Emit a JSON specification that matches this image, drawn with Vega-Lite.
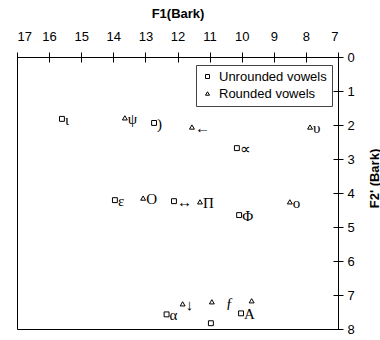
{
  "$schema": "https://vega.github.io/schema/vega-lite/v6.json",
  "width": 321,
  "height": 272,
  "autosize": "none",
  "padding": {"left": 17, "top": 57, "right": 42, "bottom": 11},
  "background": "white",
  "config": {
    "view": {"stroke": "black", "strokeWidth": 1},
    "axis": {
      "labelFont": "Liberation Sans",
      "labelFontSize": 13,
      "labelColor": "black",
      "tickColor": "black",
      "titleFont": "Liberation Sans",
      "titleFontSize": 13,
      "titleFontWeight": "bold",
      "titleColor": "black",
      "domain": false,
      "grid": false,
      "offset": -5,
      "tickSize": 10
    }
  },
  "data": {
    "values": [
      {"F1": 15.6, "F2": 1.82, "type": "Unrounded vowels", "label": "ι"},
      {"F1": 13.64, "F2": 1.79, "type": "Rounded vowels", "label": "ψ"},
      {"F1": 12.73, "F2": 1.94, "type": "Unrounded vowels", "label": ")"},
      {"F1": 11.55, "F2": 2.06, "type": "Rounded vowels", "label": "←"},
      {"F1": 7.87, "F2": 2.06, "type": "Rounded vowels", "label": "υ"},
      {"F1": 10.15, "F2": 2.68, "type": "Unrounded vowels", "label": "∝"},
      {"F1": 13.95, "F2": 4.21, "type": "Unrounded vowels", "label": "ε"},
      {"F1": 13.07, "F2": 4.15, "type": "Rounded vowels", "label": "O"},
      {"F1": 12.11, "F2": 4.24, "type": "Unrounded vowels", "label": "↔"},
      {"F1": 11.3, "F2": 4.26, "type": "Rounded vowels", "label": "Π"},
      {"F1": 8.5, "F2": 4.26, "type": "Rounded vowels", "label": "ο"},
      {"F1": 10.08, "F2": 4.65, "type": "Unrounded vowels", "label": "Φ"},
      {"F1": 11.84, "F2": 7.26, "type": "Rounded vowels", "label": "↓"},
      {"F1": 12.34, "F2": 7.57, "type": "Unrounded vowels", "label": "α"},
      {"F1": 10.93, "F2": 7.2, "type": "Rounded vowels", "label": "\u2800ƒ"},
      {"F1": 10.96, "F2": 7.83, "type": "Unrounded vowels", "label": ""},
      {"F1": 9.69, "F2": 7.17, "type": "Rounded vowels", "label": ""},
      {"F1": 10.02, "F2": 7.54, "type": "Unrounded vowels", "label": "A"}
    ]
  },
  "encoding": {
    "x": {
      "field": "F1", "type": "quantitative",
      "scale": {"domain": [7, 17], "reverse": true, "nice": false, "zero": false},
      "axis": {"orient": "top", "title": "F1(Bark)", "values": [7, 8, 9, 10, 11, 12, 13, 14, 15, 16, 17], "labelPadding": 9, "titlePadding": 10}
    },
    "y": {
      "field": "F2", "type": "quantitative",
      "scale": {"domain": [0, 8], "reverse": true, "nice": false, "zero": false},
      "axis": {"orient": "right", "title": "F2' (Bark)", "values": [0, 1, 2, 3, 4, 5, 6, 7, 8], "labelPadding": 4, "titleAngle": 270, "titleX": 41, "titleY": 121, "titleAlign": "center", "titleBaseline": "middle"}
    }
  },
  "layer": [
    {
      "mark": {"type": "point", "filled": false, "stroke": "black", "strokeWidth": 1, "size": 24, "opacity": 1},
      "encoding": {
        "shape": {
          "field": "type", "type": "nominal",
          "scale": {"domain": ["Unrounded vowels", "Rounded vowels"], "range": ["square", "triangle-up"]},
          "legend": {
            "title": null, "orient": "none", "legendX": 179, "legendY": 8,
            "strokeColor": "#444", "padding": 5, "labelFont": "Liberation Sans", "labelFontSize": 13,
            "labelColor": "black", "symbolSize": 16, "symbolStrokeColor": "black", "symbolStrokeWidth": 1,
            "labelOffset": 5, "rowPadding": 3, "fillColor": "white"
          }
        }
      }
    },
    {
      "mark": {"type": "text", "font": "Liberation Serif", "fontSize": 15, "align": "left", "baseline": "alphabetic", "dx": 3, "dy": 6, "color": "black"},
      "encoding": {"text": {"field": "label"}}
    }
  ]
}
